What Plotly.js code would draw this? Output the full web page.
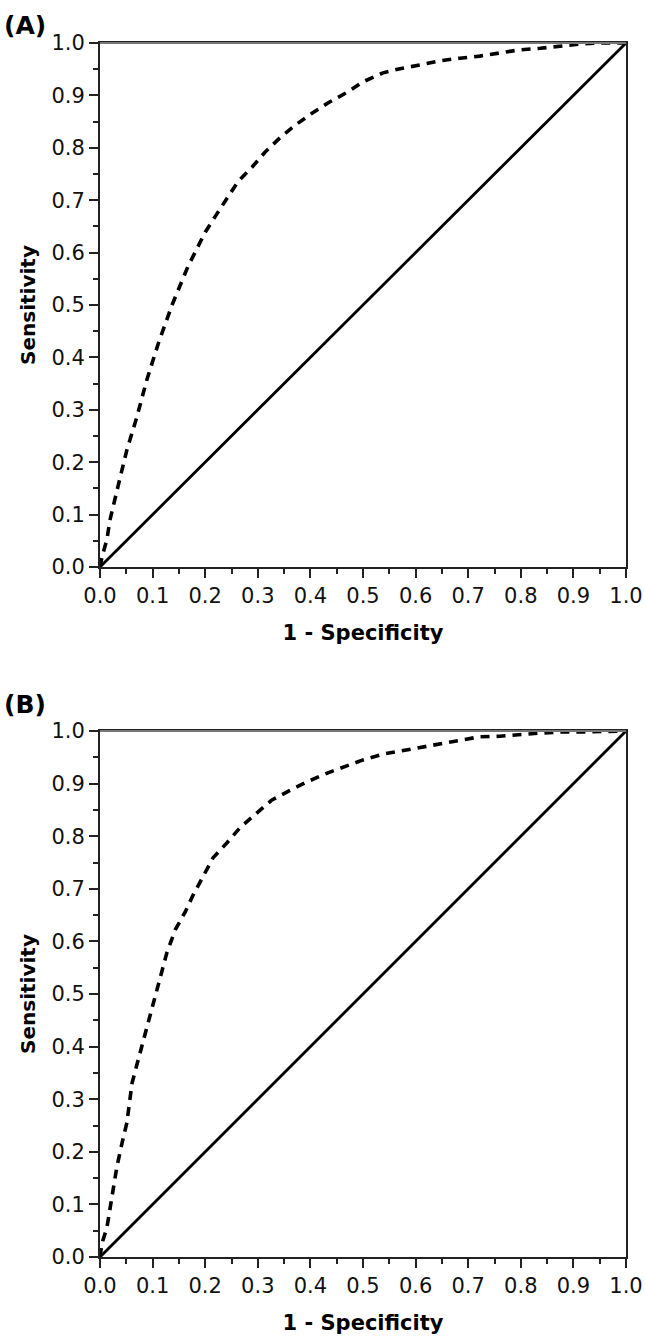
<!DOCTYPE html>
<html>
<head>
<meta charset="utf-8">
<script src="https://cdn.plot.ly/plotly-3.0.1.min.js"></script>
<style>html,body{margin:0;padding:0;background:#fff;}#chart{width:645px;height:1342px;}</style>
</head>
<body>
<div id="chart"></div>
<script>
// Panel (A) ROC curve
const A_fpr = [0, 0.004, 0.013, 0.019, 0.034, 0.051, 0.070, 0.089, 0.111, 0.137, 0.167, 0.183, 0.2, 0.221, 0.241, 0.262, 0.289, 0.314, 0.342, 0.371, 0.403, 0.434, 0.47, 0.5, 0.538, 0.57, 0.608, 0.646, 0.684, 0.722, 0.76, 0.798, 0.837, 0.875, 0.913, 0.95, 1.0];
const A_tpr = [0, 0.02, 0.052, 0.09, 0.153, 0.223, 0.286, 0.357, 0.427, 0.5, 0.573, 0.605, 0.639, 0.672, 0.704, 0.735, 0.763, 0.792, 0.819, 0.843, 0.866, 0.886, 0.906, 0.926, 0.943, 0.951, 0.958, 0.966, 0.971, 0.975, 0.981, 0.987, 0.99, 0.994, 0.998, 1.0, 1.0];
// Panel (B) ROC curve
const B_fpr = [0, 0.004, 0.013, 0.019, 0.025, 0.032, 0.042, 0.051, 0.056, 0.061, 0.07, 0.08, 0.089, 0.099, 0.11, 0.12, 0.127, 0.143, 0.162, 0.177, 0.196, 0.215, 0.241, 0.266, 0.298, 0.327, 0.361, 0.393, 0.432, 0.466, 0.5, 0.538, 0.57, 0.608, 0.646, 0.684, 0.722, 0.76, 0.8, 0.837, 0.875, 0.913, 1.0];
const B_tpr = [0, 0.027, 0.055, 0.095, 0.133, 0.171, 0.217, 0.255, 0.293, 0.331, 0.365, 0.403, 0.437, 0.475, 0.513, 0.549, 0.578, 0.622, 0.656, 0.688, 0.722, 0.759, 0.787, 0.816, 0.844, 0.869, 0.887, 0.903, 0.92, 0.932, 0.945, 0.956, 0.962, 0.968, 0.975, 0.983, 0.989, 0.99, 0.994, 0.996, 0.998, 0.998, 1.0];
// Reference (chance) line
const diag = [0, 1];
const panelLabels = ['(A)', '(B)'];
const tickVals = [0, 0.1, 0.2, 0.3, 0.4, 0.5, 0.6, 0.7, 0.8, 0.9, 1.0];
const tickText = ['0.0', '0.1', '0.2', '0.3', '0.4', '0.5', '0.6', '0.7', '0.8', '0.9', '1.0'];
const xTitle = '1 - Specificity';
const yTitle = 'Sensitivity';

const W = 645, H = 1342;
const xDom = [100 / W, 626 / W];
const domA = [1 - 567 / H, 1 - 43 / H];
const domB = [1 - 1257 / H, 1 - 731 / H];

const dashStyle = {color: '#000', width: 3.6, dash: '9px,7px'};
const solidStyle = {color: '#000', width: 2.8};

const traces = [
  {x: diag, y: diag, xaxis: 'x', yaxis: 'y', mode: 'lines', line: solidStyle, hoverinfo: 'skip'},
  {x: A_fpr, y: A_tpr, xaxis: 'x', yaxis: 'y', mode: 'lines', line: dashStyle, hoverinfo: 'skip'},
  {x: diag, y: diag, xaxis: 'x2', yaxis: 'y2', mode: 'lines', line: solidStyle, hoverinfo: 'skip'},
  {x: B_fpr, y: B_tpr, xaxis: 'x2', yaxis: 'y2', mode: 'lines', line: dashStyle, hoverinfo: 'skip'}
];

const tickFont = {family: 'DejaVu Sans, sans-serif', size: 21, color: '#111'};
const xTitleFont = {family: 'DejaVu Sans, sans-serif', size: 21, color: '#000', weight: 'bold'};
const yTitleFont = {family: 'DejaVu Sans, sans-serif', size: 20, color: '#000', weight: 'bold'};

function xAx(anchor) {
  return {
    domain: xDom, anchor: anchor, range: [0, 1], fixedrange: true,
    tickvals: tickVals, ticktext: tickText, ticks: 'outside', ticklen: 9, tickwidth: 2, tickcolor: '#222',
    minor: {dtick: 0.05, tick0: 0, ticks: 'outside', ticklen: 5, tickwidth: 2, tickcolor: '#222', showgrid: false},
    showline: true, linecolor: '#222', linewidth: 2, mirror: true, showgrid: false, zeroline: false,
    tickfont: tickFont, automargin: false,
    title: {text: xTitle, font: xTitleFont, standoff: 18}
  };
}
function yAx(anchor, dom) {
  return {
    domain: dom, anchor: anchor, range: [0, 1], fixedrange: true,
    tickvals: tickVals, ticktext: tickText, ticks: 'outside', ticklen: 9, tickwidth: 2, tickcolor: '#222',
    minor: {dtick: 0.05, tick0: 0, ticks: 'outside', ticklen: 5, tickwidth: 2, tickcolor: '#222', showgrid: false},
    showline: true, linecolor: '#222', linewidth: 2, mirror: true, showgrid: false, zeroline: false,
    tickfont: tickFont, automargin: false,
    title: {text: yTitle, font: yTitleFont, standoff: 10}
  };
}

const layout = {
  width: W, height: H,
  margin: {l: 0, r: 0, t: 0, b: 0},
  paper_bgcolor: '#fff', plot_bgcolor: '#fff',
  showlegend: false,
  xaxis: xAx('y'),
  yaxis: yAx('x', domA),
  xaxis2: xAx('y2'),
  yaxis2: yAx('x2', domB),
  shapes: [
    {type: 'line', xref: 'paper', yref: 'paper', x0: xDom[0], x1: xDom[1], y0: domA[1], y1: domA[1], line: {color: '#777', width: 2}},
    {type: 'line', xref: 'paper', yref: 'paper', x0: xDom[0], x1: xDom[1], y0: domB[1], y1: domB[1], line: {color: '#777', width: 2}}
  ],
  annotations: [
    {text: panelLabels[0], xref: 'paper', yref: 'paper', x: 2 / W, y: 1 - 25 / H, xanchor: 'left', yanchor: 'middle', showarrow: false,
     font: {family: 'DejaVu Sans, sans-serif', size: 25, color: '#000', weight: 'bold'}},
    {text: panelLabels[1], xref: 'paper', yref: 'paper', x: 2 / W, y: 1 - 704 / H, xanchor: 'left', yanchor: 'middle', showarrow: false,
     font: {family: 'DejaVu Sans, sans-serif', size: 25, color: '#000', weight: 'bold'}}
  ]
};

Plotly.newPlot('chart', traces, layout, {staticPlot: true, displayModeBar: false});
</script>
</body>
</html>
